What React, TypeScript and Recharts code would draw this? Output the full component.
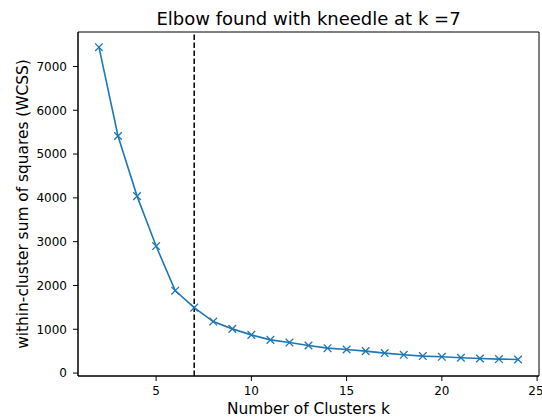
import { ComposedChart, Line, XAxis, YAxis, ReferenceLine, ReferenceArea } from 'recharts';

const clusterCounts = [2, 3, 4, 5, 6, 7, 8, 9, 10, 11, 12, 13, 14, 15, 16, 17, 18, 19, 20, 21, 22, 23, 24];
const wcss = [7440, 5413, 4040, 2900, 1882, 1494, 1175, 1009, 872, 758, 697, 629, 569, 538, 501, 456, 417, 387, 371, 349, 333, 319, 310];
const xTicks = [5, 10, 15, 20, 25];
const yTicks = [0, 1000, 2000, 3000, 4000, 5000, 6000, 7000];
const elbowK = 7;

const data = clusterCounts.map((k, i) => ({ k, wcss: wcss[i] }));

const BLUE = '#1f77b4';
const FONT = 'DejaVu Sans, sans-serif';

// matplotlib-style "x" marker
function XMarker(props: any) {
  const { cx, cy } = props;
  if (cx == null || cy == null) return null;
  const r = 3.8;
  return (
    <g stroke={BLUE} strokeWidth={1.3}>
      <line x1={cx - r} y1={cy - r} x2={cx + r} y2={cy + r} />
      <line x1={cx - r} y1={cy + r} x2={cx + r} y2={cy - r} />
    </g>
  );
}

const tickStyle = { fontFamily: FONT, fontSize: 12, fill: '#000' };

export default function App() {
  return (
    <div style={{ position: 'fixed', left: 0, top: 0, width: 542, height: 419, background: '#fff', fontFamily: FONT }}>
      <ComposedChart width={542} height={419} data={data} margin={{ top: 32, right: 3, left: 0, bottom: 0 }}>
        <XAxis
          dataKey="k"
          type="number"
          domain={[0.9, 25.1]}
          ticks={xTicks}
          height={43}
          tick={tickStyle}
          tickSize={5}
          tickMargin={5}
          stroke="#000"
          allowDataOverflow
        />
        <YAxis
          type="number"
          domain={[-67, 7787]}
          ticks={yTicks}
          width={78}
          tick={tickStyle}
          tickSize={5}
          tickMargin={6}
          stroke="#000"
          allowDataOverflow
        />
        <ReferenceArea x1={0.9} x2={25.1} y1={-67} y2={7787} fill="none" stroke="#000" strokeWidth={1} />
        <ReferenceLine x={elbowK} stroke="#000" strokeWidth={1.5} strokeDasharray="5.5 2.5" />
        <Line
          dataKey="wcss"
          stroke={BLUE}
          strokeWidth={1.6}
          dot={<XMarker />}
          activeDot={false}
          isAnimationActive={false}
        />
      </ComposedChart>
      <div style={{ position: 'absolute', left: 78, width: 461, top: 8, textAlign: 'center', fontSize: 18, whiteSpace: 'nowrap' }}>
        Elbow found with kneedle at k =7
      </div>
      <div style={{ position: 'absolute', left: 78, width: 461, top: 400, textAlign: 'center', fontSize: 15.4, whiteSpace: 'nowrap' }}>
        Number of Clusters k
      </div>
      <div
        style={{
          position: 'absolute',
          left: 23,
          top: 204,
          transform: 'translate(-50%, -50%) rotate(-90deg)',
          fontSize: 15.4,
          whiteSpace: 'nowrap',
        }}
      >
        within-cluster sum of squares (WCSS)
      </div>
    </div>
  );
}
